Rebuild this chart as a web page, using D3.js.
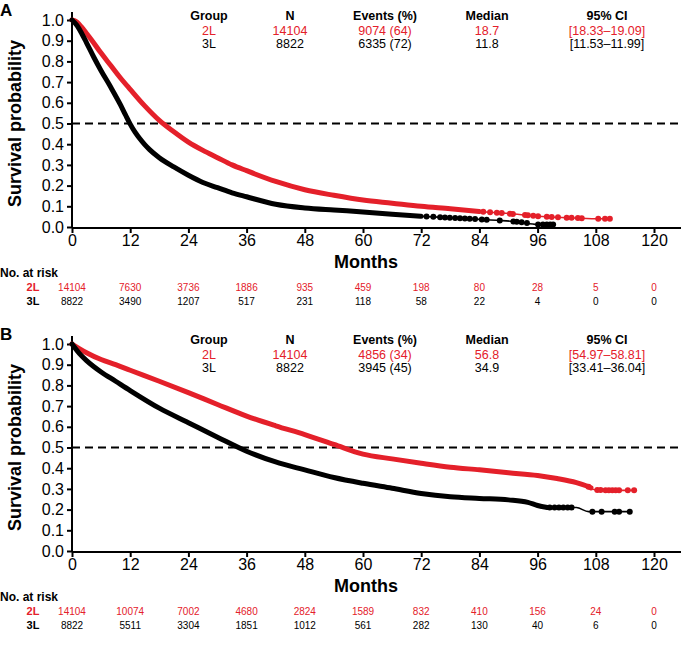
<!DOCTYPE html>
<html>
<head>
<meta charset="utf-8">
<script src="https://cdn.jsdelivr.net/npm/d3@7"></script>
<style>
  body { margin: 0; background: #fff; }
  svg { font-family: "Liberation Sans", Arial, sans-serif; }
</style>
</head>
<body>
<div id="chart"></div>
<script>
const RED = "#e4202a";

// x ticks (months)
const monthTicks = [0, 12, 24, 36, 48, 60, 72, 84, 96, 108, 120];
const survTicks = [0, 0.1, 0.2, 0.3, 0.4, 0.5, 0.6, 0.7, 0.8, 0.9, 1.0];
const groups = ["2L", "3L"];
const tableHeaders = ["Group", "N", "Events (%)", "Median", "95% CI"];

// Panel A curves
const aRedT = [0, 1, 2, 3, 4, 6, 8, 10, 12, 15, 18, 21, 24, 27, 30, 33, 36, 42, 48, 54, 60, 66, 72, 78, 84, 90, 96, 102, 108, 111.3];
const aRedS = [1, 0.99, 0.965, 0.935, 0.905, 0.84, 0.78, 0.72, 0.665, 0.585, 0.515, 0.46, 0.41, 0.37, 0.335, 0.3, 0.272, 0.22, 0.18, 0.153, 0.13, 0.115, 0.1, 0.088, 0.075, 0.065, 0.052, 0.045, 0.04, 0.04];
const aBlackT = [0, 1, 2, 3, 4.5, 6, 8, 10, 11, 12, 13, 14, 15, 16, 18, 21, 24, 27, 30, 33, 36, 42, 48, 54, 60, 66, 72, 78, 84, 88, 92, 96, 99.6];
const aBlackS = [1, 0.975, 0.935, 0.89, 0.82, 0.755, 0.675, 0.59, 0.543, 0.497, 0.458, 0.426, 0.398, 0.374, 0.335, 0.29, 0.25, 0.215, 0.19, 0.165, 0.146, 0.11, 0.092, 0.082, 0.073, 0.062, 0.052, 0.045, 0.037, 0.032, 0.025, 0.012, 0.012];
const aRedCens = [84.8, 86.2, 87.6, 88.6, 90.3, 90.9, 93.4, 94, 95.1, 96.1, 97.9, 98.9, 100.2, 102, 103, 104.3, 105.1, 108.5, 109.9, 110.9];
const aBlackCens = [73.1, 74.5, 75.9, 76.9, 77.9, 79, 80, 81, 82, 83.1, 84.5, 85.5, 88.2, 91, 91.7, 92.7, 93.8, 96.1, 97.1, 97.9, 98.6, 99.2];

// Panel B curves
const bRedT = [0, 1.5, 3, 6, 9, 12, 18, 24, 30, 36, 42, 48, 54, 60, 66, 72, 78, 84, 90, 96, 100, 104, 106, 108, 112, 115.9];
const bRedS = [1, 0.978, 0.958, 0.925, 0.9, 0.873, 0.82, 0.765, 0.708, 0.652, 0.605, 0.562, 0.515, 0.468, 0.445, 0.424, 0.405, 0.392, 0.378, 0.365, 0.35, 0.33, 0.315, 0.295, 0.293, 0.293];
const bBlackT = [0, 1.5, 3, 6, 9, 12, 18, 24, 30, 36, 42, 48, 54, 60, 66, 72, 78, 84, 90, 94, 96, 98, 100, 104, 106.5, 108, 115];
const bBlackS = [1, 0.955, 0.92, 0.865, 0.82, 0.775, 0.69, 0.62, 0.55, 0.482, 0.43, 0.392, 0.355, 0.327, 0.303, 0.278, 0.262, 0.254, 0.247, 0.235, 0.22, 0.21, 0.21, 0.21, 0.19, 0.19, 0.19];
const bRedCens = [106.5, 108.3, 109, 110, 110.7, 111.4, 112.1, 112.8, 114.6, 115.9];
const bBlackCens = [98.5, 99.5, 100.4, 101.3, 102.2, 103, 107.3, 109.2, 111.9, 112.8, 115];

// summary tables
const aRows = [["2L", "14104", "9074 (64)", "18.7", "[18.33\u201319.09]"], ["3L", "8822", "6335 (72)", "11.8", "[11.53\u201311.99]"]];
const bRows = [["2L", "14104", "4856 (34)", "56.8", "[54.97\u201358.81]"], ["3L", "8822", "3945 (45)", "34.9", "[33.41\u201336.04]"]];

// numbers at risk
const aRisk2L = [14104, 7630, 3736, 1886, 935, 459, 198, 80, 28, 5, 0];
const aRisk3L = [8822, 3490, 1207, 517, 231, 118, 58, 22, 4, 0, 0];
const bRisk2L = [14104, 10074, 7002, 4680, 2824, 1589, 832, 410, 156, 24, 0];
const bRisk3L = [8822, 5511, 3304, 1851, 1012, 561, 282, 130, 40, 6, 0];

const W = 687, H = 646;
const svg = d3.select("#chart").append("svg").attr("width", W).attr("height", H);

const x = d3.scaleLinear().domain([0, 120]).range([72, 654]);

function drawPanel(off, letter, curves, rows, risk) {
  const g = svg.append("g").attr("transform", `translate(0,${off})`);
  const y = d3.scaleLinear().domain([0, 1]).range([227, 20]);

  g.append("text").attr("x", 0).attr("y", 16).attr("font-size", 17).attr("font-weight", "bold").text(letter);

  // axes
  const xAxis = g.append("g").attr("transform", "translate(0,228)")
    .call(d3.axisBottom(x).tickValues(monthTicks).tickSize(5).tickPadding(2).tickFormat(d3.format("d")));
  xAxis.select(".domain").attr("d", "M72,0H681").attr("stroke-width", 2);
  xAxis.selectAll(".tick line").attr("stroke-width", 2);
  xAxis.selectAll("text").attr("font-size", 16).attr("font-family", "Liberation Sans, Arial");

  const yAxis = g.append("g").attr("transform", "translate(72,0)")
    .call(d3.axisLeft(y).tickValues(survTicks).tickSize(5).tickPadding(3).tickFormat(d3.format(".1f")));
  yAxis.select(".domain").attr("d", "M0,12V228").attr("stroke-width", 2);
  yAxis.selectAll(".tick line").attr("stroke-width", 2);
  yAxis.selectAll("text").attr("font-size", 16).attr("font-family", "Liberation Sans, Arial");

  g.append("text").attr("transform", `translate(21,${y(0.5)}) rotate(-90)`)
    .attr("text-anchor", "middle").attr("font-size", 18).attr("font-weight", "bold").text("Survival probability");
  g.append("text").attr("x", 366).attr("y", 268).attr("text-anchor", "middle")
    .attr("font-size", 18).attr("font-weight", "bold").text("Months");

  // median line
  g.append("line").attr("x1", 72).attr("x2", 681).attr("y1", y(0.5)).attr("y2", y(0.5))
    .attr("stroke", "#000").attr("stroke-width", 2).attr("stroke-dasharray", "8,5");

  // curves
  curves.forEach(c => {
    const pts = c.t.map((t, i) => [t, c.s[i]]);
    const line = d3.line().x(d => x(d[0])).y(d => y(d[1])).curve(d3.curveMonotoneX);
    const interp = t => {
      let i = d3.bisectRight(c.t, t) - 1;
      i = Math.max(0, Math.min(i, c.t.length - 2));
      const f = (t - c.t[i]) / (c.t[i + 1] - c.t[i]);
      return c.s[i] + f * (c.s[i + 1] - c.s[i]);
    };
    g.append("path").attr("d", line(pts)).attr("fill", "none").attr("stroke", c.color).attr("stroke-width", 1.6);
    const dense = pts.filter(d => d[0] <= c.thickUntil);
    dense.push([c.thickUntil, interp(c.thickUntil)]);
    g.append("path").attr("d", line(dense)).attr("fill", "none").attr("stroke", c.color)
      .attr("stroke-width", 5).attr("stroke-linejoin", "round").attr("stroke-linecap", "round");
    g.selectAll(null).data(c.cens).enter().append("circle")
      .attr("cx", d => x(d)).attr("cy", d => y(interp(d))).attr("r", 3).attr("fill", c.color);
  });

  // summary table
  const colX = [209, 290, 385, 487, 607];
  g.selectAll(null).data(tableHeaders).enter().append("text")
    .attr("x", (d, i) => colX[i]).attr("y", 20).attr("text-anchor", "middle")
    .attr("font-size", 12.5).attr("font-weight", "bold").text(d => d);
  rows.forEach((r, ri) => {
    g.selectAll(null).data(r).enter().append("text")
      .attr("x", (d, i) => colX[i]).attr("y", 35 + ri * 13).attr("text-anchor", "middle")
      .attr("font-size", 12.5).attr("fill", ri === 0 ? RED : "#000").text(d => d);
  });

  // numbers at risk
  g.append("text").attr("x", 0).attr("y", 277).attr("font-size", 12).attr("font-weight", "bold")
    .attr("font-family", "Liberation Sans Narrow, Liberation Sans, Arial").text("No. at risk");
  risk.forEach((vals, ri) => {
    const yy = 291 + ri * 14;
    const col = ri === 0 ? RED : "#000";
    g.append("text").attr("x", 33).attr("y", yy).attr("text-anchor", "middle").attr("font-size", 11)
      .attr("font-weight", "bold").attr("fill", col)
      .attr("font-family", "Liberation Sans Narrow, Liberation Sans, Arial").text(groups[ri]);
    g.selectAll(null).data(vals).enter().append("text")
      .attr("x", (d, i) => x(monthTicks[i])).attr("y", yy).attr("text-anchor", "middle")
      .attr("font-size", 10).attr("fill", col)
      .attr("font-family", "Liberation Sans Narrow, Liberation Sans, Arial").text(d => d);
  });
}

drawPanel(0, "A", [
  { t: aRedT, s: aRedS, color: RED, thickUntil: 84, cens: aRedCens },
  { t: aBlackT, s: aBlackS, color: "#000", thickUntil: 72, cens: aBlackCens }
], aRows, [aRisk2L, aRisk3L]);

drawPanel(324, "B", [
  { t: bRedT, s: bRedS, color: RED, thickUntil: 107, cens: bRedCens },
  { t: bBlackT, s: bBlackS, color: "#000", thickUntil: 98, cens: bBlackCens }
], bRows, [bRisk2L, bRisk3L]);
</script>
</body>
</html>
